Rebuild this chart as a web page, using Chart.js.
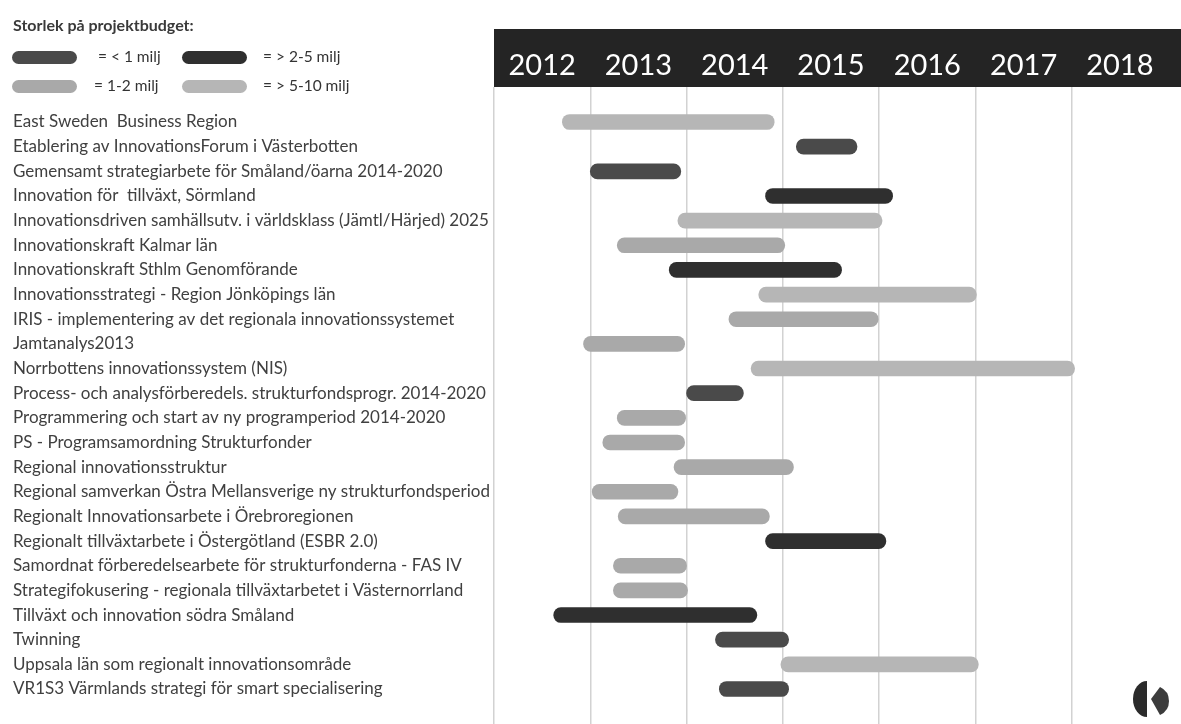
<!DOCTYPE html>
<html>
<head>
<meta charset="utf-8">
<script src="https://cdn.jsdelivr.net/npm/chart.js@4/dist/chart.umd.min.js"></script>
<style>
  html, body { margin: 0; padding: 0; background: #ffffff; }
  #wrap { position: relative; width: 1181px; height: 724px; overflow: hidden; }
  #c { position: absolute; left: 0; top: 0; }
  #legendTitle { position: absolute; left: 13px; top: 15px; font: bold 16px Lato, "Open Sans", sans-serif; color: #3a3a3a; white-space: nowrap; }
  .lgItem { position: absolute; height: 14px; font: 15.5px Lato, "Open Sans", sans-serif; color: #333; white-space: nowrap; }
  .lgSw { position: absolute; left: 0; top: 0; width: 65px; height: 13px; border-radius: 7px; }
  .lgTx { position: absolute; top: -4px; }
  #logo { position: absolute; left: 1130px; top: 678px; }
</style>
</head>
<body>
<div id="wrap">
  <canvas id="c" width="1181" height="724"></canvas>
  <div id="legendTitle">Storlek på projektbudget:</div>
  <div id="legend"></div>
  <svg id="logo" width="45" height="44" viewBox="0 0 45 44">
    <path d="M17 3 A14 18 0 0 0 17 39 Z" fill="#2b2b2b"/>
    <path d="M21 21 L30 9 A15.4 15.4 0 0 1 30 37 Z" fill="#3c3c3c"/>
  </svg>
</div>
<script>
// ---- data ----
const projects = [
  "East Sweden  Business Region",
  "Etablering av InnovationsForum i Västerbotten",
  "Gemensamt strategiarbete för Småland/öarna 2014-2020",
  "Innovation för  tillväxt, Sörmland",
  "Innovationsdriven samhällsutv. i världsklass (Jämtl/Härjed) 2025",
  "Innovationskraft Kalmar län",
  "Innovationskraft Sthlm Genomförande",
  "Innovationsstrategi - Region Jönköpings län",
  "IRIS - implementering av det regionala innovationssystemet",
  "Jamtanalys2013",
  "Norrbottens innovationssystem (NIS)",
  "Process- och analysförberedels. strukturfondsprogr. 2014-2020",
  "Programmering och start av ny programperiod 2014-2020",
  "PS - Programsamordning Strukturfonder",
  "Regional innovationsstruktur",
  "Regional samverkan Östra Mellansverige ny strukturfondsperiod",
  "Regionalt Innovationsarbete i Örebroregionen",
  "Regionalt tillväxtarbete i Östergötland (ESBR 2.0)",
  "Samordnat förberedelsearbete för strukturfonderna - FAS IV",
  "Strategifokusering - regionala tillväxtarbetet i Västernorrland",
  "Tillväxt och innovation södra Småland",
  "Twinning",
  "Uppsala län som regionalt innovationsområde",
  "VR1S3 Värmlands strategi för smart specialisering"
];
const startYear = [2012.71, 2015.14, 2013.00, 2014.82, 2013.91, 2013.28, 2013.82, 2014.75,
                   2014.44, 2012.93, 2014.67, 2014.00, 2013.28, 2013.13, 2013.87, 2013.02,
                   2013.29, 2014.82, 2013.24, 2013.24, 2012.62, 2014.30, 2014.98, 2014.34];
const endYear   = [2014.91, 2015.77, 2013.94, 2016.14, 2016.03, 2015.02, 2015.61, 2017.01,
                   2015.99, 2013.98, 2018.03, 2014.59, 2013.99, 2013.98, 2015.11, 2013.91,
                   2014.86, 2016.07, 2014.00, 2014.01, 2014.73, 2015.06, 2017.03, 2015.06];
// budget class index per project: 0 = <1 milj, 1 = 1-2 milj, 2 = 2-5 milj, 3 = 5-10 milj
const budgetClass = [3, 0, 0, 2, 3, 1, 2, 3,
                     1, 1, 3, 0, 1, 1, 1, 1,
                     1, 2, 1, 1, 2, 0, 3, 0];
const budgetLabels = ["= < 1 milj", "=  1-2 milj", "= > 2-5 milj", "= > 5-10 milj"];
const years = [2012, 2013, 2014, 2015, 2016, 2017, 2018];

// ---- styles ----
const budgetColors = ["#4a4a4a", "#a9a9a9", "#2f2f2f", "#b6b6b6"];
const legendPos = [ {x: 12, y: 51, tx: 86}, {x: 12, y: 80, tx: 82}, {x: 182, y: 51, tx: 81}, {x: 182, y: 80, tx: 81} ];

// legend (HTML)
const lg = document.getElementById('legend');
budgetLabels.forEach((t, i) => {
  const d = document.createElement('div');
  d.className = 'lgItem';
  d.style.left = legendPos[i].x + 'px';
  d.style.top = legendPos[i].y + 'px';
  d.innerHTML = '<div class="lgSw" style="background:' + budgetColors[i] + '"></div>' +
                '<div class="lgTx" style="left:' + legendPos[i].tx + 'px">' + t + '</div>';
  lg.appendChild(d);
});

const headerBand = {
  id: 'headerBand',
  beforeDraw(chart) {
    const s = chart.scales.xTop;
    const ctx = chart.ctx;
    ctx.save();
    ctx.fillStyle = '#242424';
    ctx.fillRect(chart.chartArea.left, s.top, chart.width - chart.chartArea.left, s.bottom - s.top);
    ctx.restore();
  }
};

new Chart(document.getElementById('c'), {
  type: 'bar',
  data: {
    labels: projects,
    datasets: [{
      data: projects.map((p, i) => ({ x: [startYear[i], endYear[i]], y: i })),
      backgroundColor: budgetClass.map(b => budgetColors[b]),
      barThickness: 15,
      borderRadius: 8,
      borderSkipped: false
    }]
  },
  options: {
    indexAxis: 'y',
    responsive: false,
    animation: false,
    layout: { padding: { top: 29, left: 13, right: 13, bottom: 0 } },
    plugins: { legend: { display: false }, tooltip: { enabled: false } },
    scales: {
      x: {
        type: 'linear',
        position: 'bottom',
        min: 2012, max: 2019,
        afterBuildTicks: s => { s.ticks = years.map(v => ({ value: v })); },
        afterFit: s => { s.height = 0; },
        ticks: { display: false },
        grid: { color: '#d2d2d2', lineWidth: 1.5, drawTicks: false },
        border: { display: false }
      },
      xTop: {
        type: 'linear',
        position: 'top',
        min: 2012, max: 2019,
        afterBuildTicks: s => { s.ticks = years.map(v => ({ value: v + 0.5 })); },
        afterFit: s => { s.height = 58; },
        ticks: {
          callback: v => String(Math.round(v - 0.5)),
          color: '#ffffff',
          font: { family: 'Lato, "Open Sans", sans-serif', size: 29 },
          padding: 4,
          maxRotation: 0,
          autoSkip: false
        },
        grid: { display: false, drawTicks: false },
        border: { display: false }
      },
      y: {
        type: 'linear',
        reverse: true,
        offset: false,
        min: -1.42, max: 24.42,
        afterBuildTicks: s => { s.ticks = projects.map((p, i) => ({ value: i })); },
        afterFit: s => { s.width = 481; s.paddingTop = 0; s.paddingBottom = 0; },
        ticks: {
          callback: v => projects[v],
          crossAlign: 'far',
          color: '#404040',
          font: { family: 'Lato, "Open Sans", sans-serif', size: 17 },
          autoSkip: false,
          padding: 4
        },
        grid: { display: false, drawTicks: false, offset: false },
        border: { display: false }
      }
    }
  },
  plugins: [headerBand]
});
</script>
</body>
</html>
